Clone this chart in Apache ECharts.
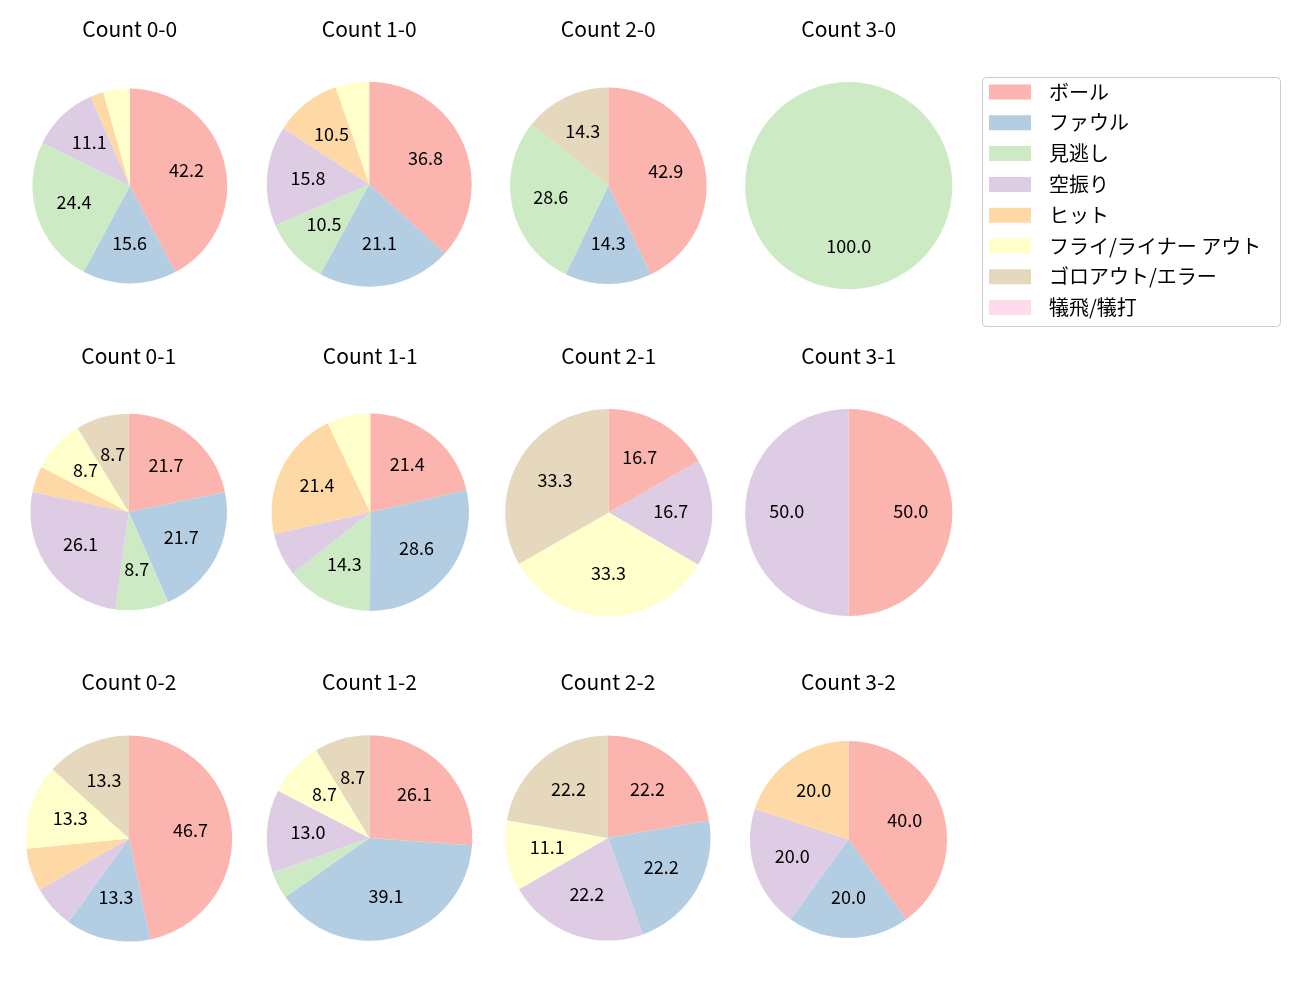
<!DOCTYPE html>
<html>
<head>
<meta charset="utf-8">
<script src="https://cdn.jsdelivr.net/npm/echarts@6/dist/echarts.min.js"></script>
<style>
html,body{margin:0;padding:0;background:#fff;}
#chart{width:1300px;height:1000px;}
</style>
</head>
<body>
<div id="chart"></div>
<script>
// Categories (legend order)
const categories = ['ボール','ファウル','見逃し','空振り','ヒット','フライ/ライナー アウト','ゴロアウト/エラー','犠飛/犠打'];
const colors = ['#fbb4ae','#b3cde3','#ccebc5','#decbe4','#fed9a6','#ffffcc','#e5d8bd','#fddaec'];

// Percentages per count, in category order
const count00 = [42.2, 15.6, 24.4, 11.1, 2.2, 4.4, 0, 0];
const count10 = [36.8, 21.1, 10.5, 15.8, 10.5, 5.3, 0, 0];
const count20 = [42.9, 14.3, 28.6, 0, 0, 0, 14.3, 0];
const count30 = [0, 0, 100.0, 0, 0, 0, 0, 0];
const count01 = [21.7, 21.7, 8.7, 26.1, 4.3, 8.7, 8.7, 0];
const count11 = [21.4, 28.6, 14.3, 7.1, 21.4, 7.1, 0, 0];
const count21 = [16.7, 0, 0, 16.7, 0, 33.3, 33.3, 0];
const count31 = [50.0, 0, 0, 50.0, 0, 0, 0, 0];
const count02 = [46.7, 13.3, 0, 6.7, 6.7, 13.3, 13.3, 0];
const count12 = [26.1, 39.1, 4.3, 13.0, 0, 8.7, 8.7, 0];
const count22 = [22.2, 22.2, 0, 22.2, 0, 11.1, 22.2, 0];
const count32 = [40.0, 20.0, 0, 20.0, 20.0, 0, 0, 0];

const titles = ['Count 0-0','Count 1-0','Count 2-0','Count 3-0',
                'Count 0-1','Count 1-1','Count 2-1','Count 3-1',
                'Count 0-2','Count 1-2','Count 2-2','Count 3-2'];
const pieValues = [count00,count10,count20,count30,count01,count11,count21,count31,count02,count12,count22,count32];

// layout (pixels): center x, center y, radius
const layout = [
  [129.8,186.0,97.4],[369.2,184.2,102.5],[608.3,185.8,98.3],[848.7,185.7,103.6],
  [128.7,512.0,98.3],[370.3,512.3,98.7],[608.7,512.5,103.6],[848.7,512.5,103.6],
  [129.0,838.5,103.1],[369.5,838.0,102.8],[607.9,838.0,102.6],[848.5,839.5,98.5]
];
const titleY = [29, 356, 682];

const FONT = '"Noto Sans CJK JP", "Noto Sans", sans-serif';

function makeData(vals) {
  return categories.map((c, i) => ({ name: c, value: vals[i], itemStyle: { color: colors[i] } }));
}

const series = [];
const ghost = [];
const graphics = [];
pieValues.forEach((vals, k) => {
  const [cx, cy, r] = layout[k];
  const total = vals.reduce((a, b) => a + b, 0);
  series.push({
    type: 'pie',
    center: [cx, cy],
    radius: [0, r],
    startAngle: 90,
    clockwise: true,
    silent: true,
    label: { show: false },
    labelLine: { show: false },
    emphasis: { disabled: true },
    animation: false,
    data: makeData(vals)
  });
  // label carrier: transparent pie whose inside labels sit at ~0.6r of the visible pie
  ghost.push({
    type: 'pie',
    center: [cx, cy],
    radius: [0, r * 1.14],
    startAngle: 90,
    clockwise: true,
    silent: true,
    itemStyle: { color: 'rgba(0,0,0,0)' },
    label: {
      show: true,
      position: 'inside',
      color: '#000',
      fontSize: 18,
      fontFamily: FONT,
      offset: [0, -1.5],
      formatter: p => {
        const pct = p.value / total * 100;
        return pct >= 8 ? pct.toFixed(1) : '';
      }
    },
    labelLine: { show: false },
    emphasis: { disabled: true },
    animation: false,
    data: categories.map((c, i) => ({ name: c, value: vals[i], itemStyle: { color: 'rgba(0,0,0,0)' } }))
  });
  graphics.push({
    type: 'text',
    x: cx,
    y: titleY[Math.floor(k / 4)],
    style: {
      text: titles[k],
      fill: '#000',
      font: '21px ' + FONT,
      textAlign: 'center',
      textVerticalAlign: 'middle'
    }
  });
});

graphics.push({
  type: 'rect',
  shape: { x: 982.5, y: 77.5, width: 298, height: 249, r: 4 },
  style: { fill: 'rgba(255,255,255,0.8)', stroke: '#cccccc', lineWidth: 1 },
  z: -1
});

const chart = echarts.init(document.getElementById('chart'), null, { renderer: 'canvas' });
chart.setOption({
  animation: false,
  backgroundColor: '#ffffff',
  legend: {
    orient: 'vertical',
    left: 989,
    top: 82,
    padding: 0,
    itemWidth: 42,
    itemHeight: 15,
    itemGap: 10.8,
    icon: 'rect',
    selectedMode: false,
    data: categories,
    textStyle: {
      fontSize: 20,
      fontFamily: FONT,
      color: '#000',
      lineHeight: 20,
      padding: [0, 0, 0, 13]
    }
  },
  graphic: graphics,
  series: series.concat(ghost)
});
</script>
</body>
</html>
